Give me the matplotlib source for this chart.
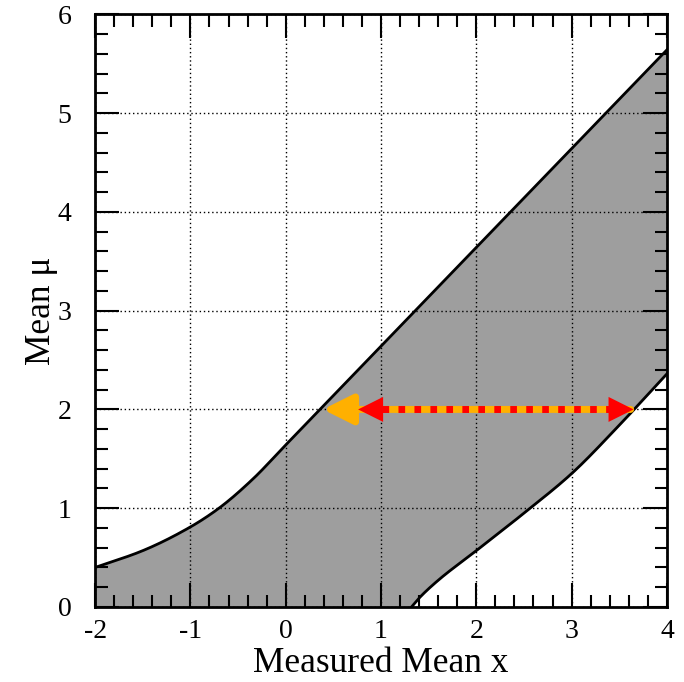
import matplotlib
matplotlib.use("Agg")
import matplotlib.pyplot as plt
import numpy as np

# Confidence belt boundaries
upper_x = [-2.0, -1.5, -1.0, -0.7, -0.35, 0.0, 0.5, 1.0, 2.0, 3.0, 4.0]
upper_y = [0.40, 0.57, 0.81, 1.00, 1.29, 1.64, 2.14, 2.64, 3.64, 4.64, 5.64]
lower_x = [1.32, 1.40, 1.60, 2.00, 2.50, 3.00, 3.50, 4.00]
lower_y = [0.00, 0.09, 0.27, 0.57, 0.95, 1.35, 1.84, 2.36]

# Arrows at mu = 2
arrow_y = 2.0
orange_x = (3.62, 0.39)   # tail, tip
red_x = (0.76, 3.65)      # left tip, right tip

x_ticks = [-2, -1, 0, 1, 2, 3, 4]
y_ticks = [0, 1, 2, 3, 4, 5, 6]


def pchip(x, y, xn):
    x = np.asarray(x, float); y = np.asarray(y, float)
    h = np.diff(x); d = np.diff(y) / h
    m = np.zeros_like(y)
    for k in range(1, len(x) - 1):
        if d[k - 1] * d[k] > 0:
            w1 = 2 * h[k] + h[k - 1]; w2 = h[k] + 2 * h[k - 1]
            m[k] = (w1 + w2) / (w1 / d[k - 1] + w2 / d[k])
    m[0] = d[0]; m[-1] = d[-1]
    idx = np.clip(np.searchsorted(x, xn) - 1, 0, len(x) - 2)
    t = (xn - x[idx]) / h[idx]
    h00 = 2 * t**3 - 3 * t**2 + 1; h10 = t**3 - 2 * t**2 + t
    h01 = -2 * t**3 + 3 * t**2; h11 = t**3 - t**2
    return h00 * y[idx] + h10 * h[idx] * m[idx] + h01 * y[idx + 1] + h11 * h[idx] * m[idx + 1]


plt.rcParams['font.family'] = ['Liberation Serif', 'DejaVu Serif']
plt.rcParams['axes.unicode_minus'] = False

fig = plt.figure(figsize=(6.84, 6.82), dpi=100)
ax = fig.add_axes([0.139, 0.110, 0.836, 0.869])

xu = np.linspace(upper_x[0], upper_x[-1], 600)
yu = pchip(upper_x, upper_y, xu)
xl = np.linspace(lower_x[0], lower_x[-1], 400)
yl = pchip(lower_x, lower_y, xl)

xs = np.linspace(-2, 4, 1200)
up = np.interp(xs, xu, yu)
lo = np.interp(xs, xl, yl, left=0.0)
ax.fill_between(xs, lo, up, color='#9e9e9e', lw=0, zorder=1)
ax.plot(xu, yu, color='black', lw=2, zorder=3)
ax.plot(xl, yl, color='black', lw=2, zorder=3)

ax.set_xlim(-2, 4)
ax.set_ylim(0, 6)
ax.set_xticks(x_ticks)
ax.set_yticks(y_ticks)
ax.set_xticks(np.arange(-2, 4.001, 0.2), minor=True)
ax.set_yticks(np.arange(0, 6.001, 0.2), minor=True)
ax.tick_params(which='both', direction='in', top=True, right=True, width=1.5)
ax.tick_params(which='major', length=17, labelsize=20)
ax.tick_params(axis='x', which='major', pad=9)
ax.tick_params(axis='y', which='major', pad=17)
ax.tick_params(which='minor', length=9)
for s in ax.spines.values():
    s.set_linewidth(2)
    s.set_zorder(5)
ax.grid(True, which='major', color='black', linestyle=(0, (1, 2)), lw=1, zorder=2)
ax.set_axisbelow(False)

# Orange arrow
ax.annotate('', xy=(orange_x[1], arrow_y), xytext=(orange_x[0], arrow_y),
            arrowprops=dict(arrowstyle='-|>', color='#ffb000', lw=5,
                            mutation_scale=45, shrinkA=0, shrinkB=0), zorder=4)
# Red dotted double arrow
ax.plot([red_x[0] + 0.25, red_x[1] - 0.25], [arrow_y, arrow_y], color='red',
        lw=5, linestyle=(0, (0.96, 1.34)), solid_capstyle='butt', dash_capstyle='butt', zorder=5)
ax.annotate('', xy=(red_x[0], arrow_y), xytext=(red_x[0] + 0.26, arrow_y),
            arrowprops=dict(arrowstyle='-|>', color='red', lw=0,
                            mutation_scale=45, shrinkA=0, shrinkB=0), zorder=5)
ax.annotate('', xy=(red_x[1], arrow_y), xytext=(red_x[1] - 0.26, arrow_y),
            arrowprops=dict(arrowstyle='-|>', color='red', lw=0,
                            mutation_scale=45, shrinkA=0, shrinkB=0), zorder=5)

ax.set_xlabel('Measured Mean x', fontsize=25.5, labelpad=2)
ax.set_ylabel('Mean μ', fontsize=25.5, labelpad=0)

fig.savefig('out.png', dpi=100)
